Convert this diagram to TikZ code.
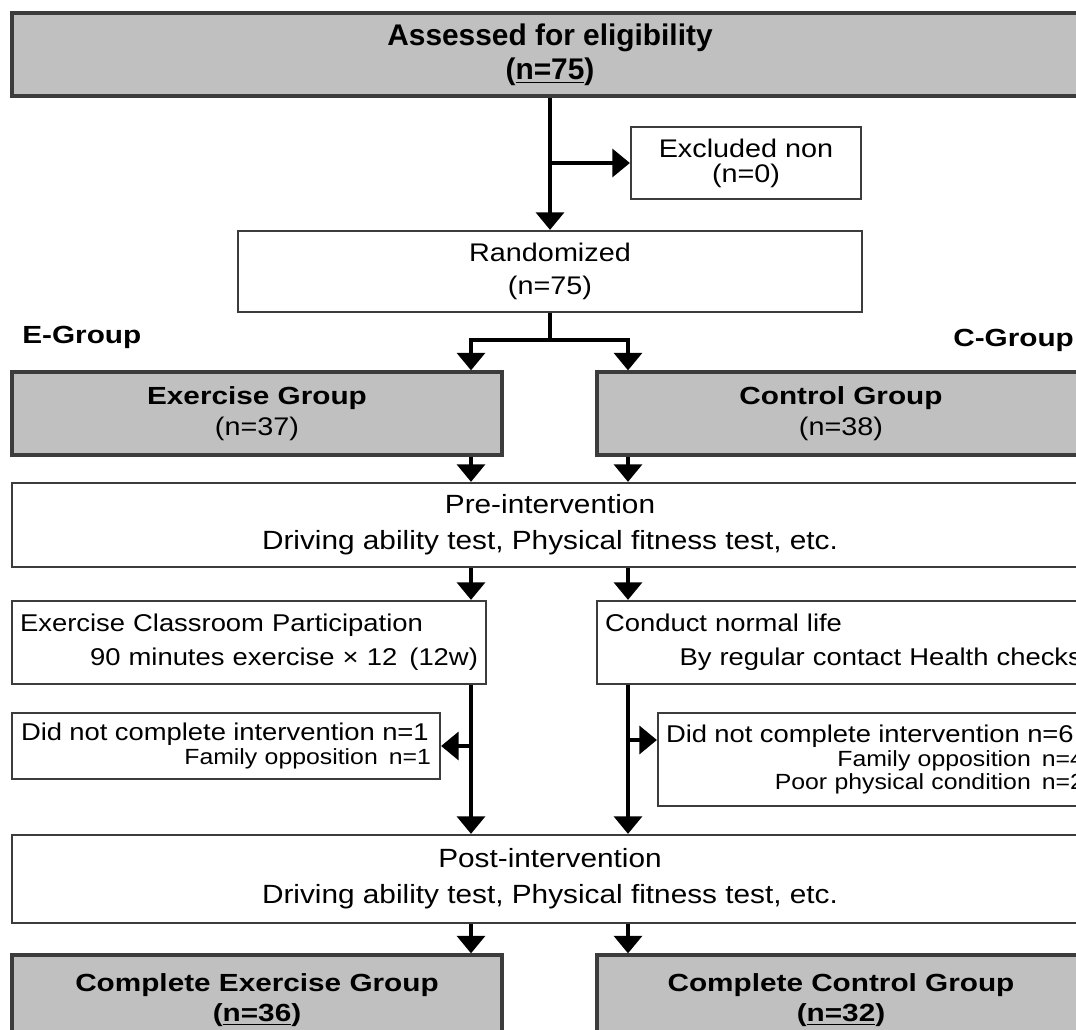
\documentclass[tikz,border=0pt]{standalone}
\usepackage{fontspec}
\setmainfont{Liberation Sans}[FakeStretch=1.13]
\newfontfamily\headfont{Liberation Sans}[FakeStretch=1.2]
\newfontfamily\titlefont{Liberation Sans}
\usetikzlibrary{arrows.meta}
\definecolor{boxgray}{HTML}{C0C0C0}
\definecolor{boxline}{HTML}{3C3C3C}
\newcommand{\headtxt}[1]{{\fontsize{14.1}{17}\headfont\bfseries #1}}
\begin{document}
\begin{tikzpicture}[x=0.02cm,y=-0.02cm,
  grey/.style={draw=boxline,line width=1.9pt,fill=boxgray,inner sep=0pt,align=center},
  plain/.style={draw=boxline,line width=1.3pt,fill=white,inner sep=0pt,align=center},
  arr/.style={line width=1.9pt,-{Triangle[width=16pt,length=10pt]}}]
\useasboundingbox (0,0) rectangle (1076,1030);
\clip (0,0) rectangle (1076,1030);
% enrolment
\node [grey,minimum width=21.52cm,minimum height=1.66cm,font=\fontsize{17}{19.5}\titlefont\bfseries] (title) at (550,54.5) {Assessed for eligibility\\(\underline{n=75})};
\node [plain,minimum width=4.6cm,minimum height=1.44cm,font=\fontsize{14.5}{14.2}\selectfont] (excl) at (746,163) {Excluded non\\(n=0)};
\node [plain,minimum width=12.48cm,minimum height=1.62cm,font=\fontsize{14.5}{18.7}\selectfont] (rand) at (550,271.5) {Randomized\\(n=75)};
% allocation
\node [anchor=west,inner sep=0pt,font=\fontsize{14.1}{17}\headfont\bfseries] (elab) at (22,337) {E-Group};
\node [anchor=west,inner sep=0pt,font=\fontsize{14.1}{17}\headfont\bfseries] (clab) at (953,340) {C-Group};
\node [grey,minimum width=9.8cm,minimum height=1.66cm,font=\fontsize{14.5}{18}\selectfont] (exg) at (257,413.5) {\headtxt{Exercise Group}\\(n=37)};
\node [grey,minimum width=9.76cm,minimum height=1.66cm,font=\fontsize{14.5}{18}\selectfont] (ctg) at (841,413.5) {\headtxt{Control Group}\\(n=38)};
\node [plain,minimum width=21.52cm,minimum height=1.68cm,font=\fontsize{15}{20.4}\selectfont] (pre) at (550,525) {Pre-intervention\\Driving ability test, Physical fitness test, etc.};
% intervention
\node [plain,minimum width=9.48cm,minimum height=1.66cm,text width=9.16cm,align=left,font=\fontsize{13.8}{19.3}\selectfont] (excls) at (249,642.5) {Exercise Classroom Participation\\\hspace*{\fill}90 minutes exercise × 12\enspace(12w)};
\node [plain,minimum width=9.86cm,minimum height=1.66cm,text width=9.54cm,align=left,font=\fontsize{13.8}{19.3}\selectfont] (life) at (843.5,642.5) {Conduct normal life\\\hspace*{\fill}By regular contact Health checks};
\node [plain,minimum width=8.56cm,minimum height=1.32cm,text width=8.2cm,align=left,font=\fontsize{12.5}{13.6}\selectfont] (dropE) at (226,746) {{\fontsize{13.8}{13.6}\selectfont Did not complete intervention n=1}\\\hspace*{\fill}Family opposition\enspace n=1};
\node [plain,minimum width=8.68cm,minimum height=1.86cm,text width=8.36cm,align=left,font=\fontsize{12.5}{13.6}\selectfont] (dropC) at (875,759.5) {{\fontsize{13.8}{13.6}\selectfont Did not complete intervention n=6}\\\hspace*{\fill}Family opposition\enspace n=4\\\hspace*{\fill}Poor physical condition\enspace n=2};
% follow-up
\node [plain,minimum width=21.52cm,minimum height=1.76cm,font=\fontsize{15}{20.4}\selectfont] (post) at (550,879) {Post-intervention\\Driving ability test, Physical fitness test, etc.};
\node [grey,minimum width=9.8cm,minimum height=1.8cm,font=\fontsize{14.1}{17}\headfont\bfseries] (cmpE) at (257,1000) {Complete Exercise Group\\(\underline{n=36})};
\node [grey,minimum width=9.76cm,minimum height=1.8cm,font=\fontsize{14.1}{17}\headfont\bfseries] (cmpC) at (841,1000) {Complete Control Group\\(\underline{n=32})};
% connectors
\coordinate (jx) at (550,163);
\coordinate (eL) at (471,340);
\coordinate (eR) at (628,340);
\coordinate (jC) at (628,740);
\draw [arr] (title.south) -- (rand.north);
\draw [arr] (jx) -- (excl.west);
\draw [arr] (rand.south) |- (eL) -- (eL |- exg.north);
\draw [arr] (rand.south) |- (eR) -- (eR |- ctg.north);
\draw [arr] (eL |- exg.south) -- (eL |- pre.north);
\draw [arr] (eR |- ctg.south) -- (eR |- pre.north);
\draw [arr] (eL |- pre.south) -- (eL |- excls.north);
\draw [arr] (eR |- pre.south) -- (eR |- life.north);
\draw [arr] (eL |- excls.south) -- (eL |- post.north);
\draw [arr] (eL |- dropE.east) -- (dropE.east);
\draw [arr] (eR |- life.south) -- (eR |- post.north);
\draw [arr] (jC) -- (jC -| dropC.west);
\draw [arr] (eL |- post.south) -- (eL |- cmpE.north);
\draw [arr] (eR |- post.south) -- (eR |- cmpC.north);
\end{tikzpicture}
\end{document}
